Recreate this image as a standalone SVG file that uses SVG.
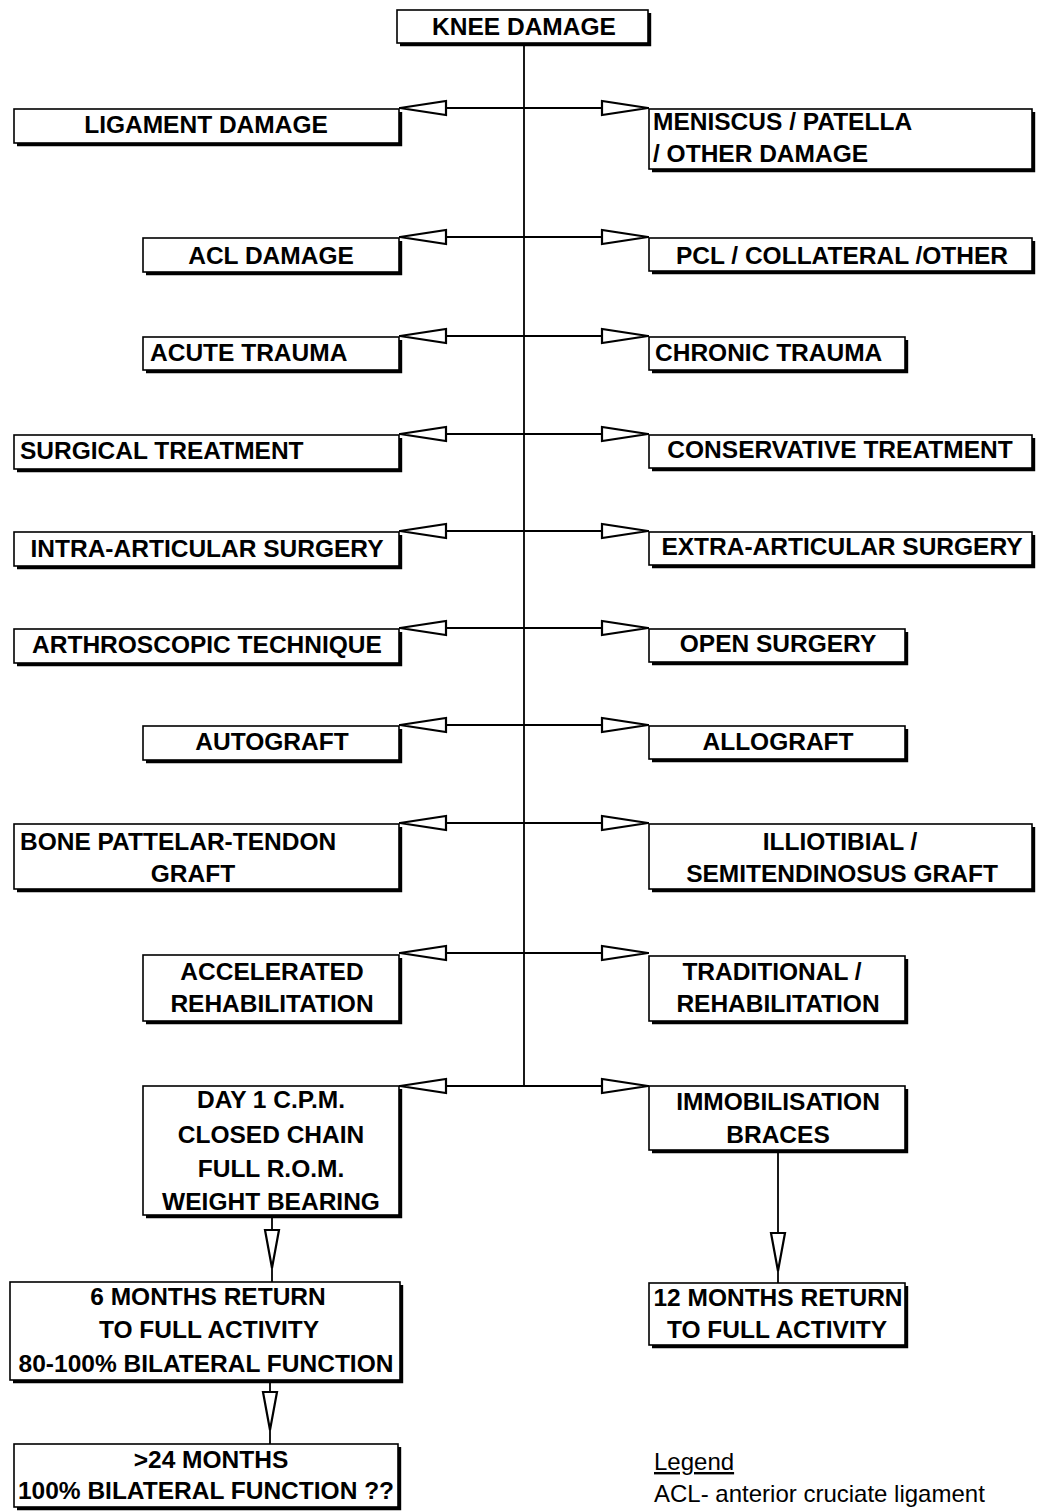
<svg xmlns="http://www.w3.org/2000/svg" xmlns:xlink="http://www.w3.org/1999/xlink" width="1038" height="1511" viewBox="0 0 1038 1511">
<style>
.box{fill:#fff;stroke:#000;stroke-width:1.6}
.sh{fill:none;stroke:#000;stroke-width:3.2}
.t{font-family:"Liberation Sans",Arial,sans-serif;font-weight:bold;font-size:24.5px;fill:#000}
.c{text-anchor:middle}
.ln{stroke:#000;stroke-width:1.8;fill:none}
.lg{font-family:"Liberation Sans",Arial,sans-serif;font-size:24px;fill:#000}
</style>
<defs>
<path id="aL" d="M0,0 L46,-7 L46,7 Z" fill="#fff" stroke="#000" stroke-width="2.2" stroke-linejoin="miter"/>
<path id="aR" d="M0,0 L-46,-7 L-46,7 Z" fill="#fff" stroke="#000" stroke-width="2.2"/>
<path id="aD" d="M0,0 L-7,-38 L7,-38 Z" fill="#fff" stroke="#000" stroke-width="2.2"/>
</defs>
<rect width="1038" height="1511" fill="#fff"/>

<g id="connectors">
<line class="ln" x1="524" y1="43" x2="524" y2="1086"/>
<line class="ln" x1="399" y1="108" x2="649" y2="108"/>
<line class="ln" x1="399" y1="237" x2="649" y2="237"/>
<line class="ln" x1="399" y1="336" x2="649" y2="336"/>
<line class="ln" x1="399" y1="434" x2="649" y2="434"/>
<line class="ln" x1="399" y1="531" x2="649" y2="531"/>
<line class="ln" x1="399" y1="628" x2="649" y2="628"/>
<line class="ln" x1="399" y1="725" x2="649" y2="725"/>
<line class="ln" x1="399" y1="823" x2="649" y2="823"/>
<line class="ln" x1="399" y1="953" x2="649" y2="953"/>
<line class="ln" x1="399" y1="1086" x2="649" y2="1086"/>
<use xlink:href="#aL" x="400" y="108"/><use xlink:href="#aR" x="648" y="108"/>
<use xlink:href="#aL" x="400" y="237"/><use xlink:href="#aR" x="648" y="237"/>
<use xlink:href="#aL" x="400" y="336"/><use xlink:href="#aR" x="648" y="336"/>
<use xlink:href="#aL" x="400" y="434"/><use xlink:href="#aR" x="648" y="434"/>
<use xlink:href="#aL" x="400" y="531"/><use xlink:href="#aR" x="648" y="531"/>
<use xlink:href="#aL" x="400" y="628"/><use xlink:href="#aR" x="648" y="628"/>
<use xlink:href="#aL" x="400" y="725"/><use xlink:href="#aR" x="648" y="725"/>
<use xlink:href="#aL" x="400" y="823"/><use xlink:href="#aR" x="648" y="823"/>
<use xlink:href="#aL" x="400" y="953"/><use xlink:href="#aR" x="648" y="953"/>
<use xlink:href="#aL" x="400" y="1086"/><use xlink:href="#aR" x="648" y="1086"/>
<line class="ln" x1="272" y1="1216" x2="272" y2="1282"/>
<use xlink:href="#aD" x="272" y="1268"/>
<line class="ln" x1="270" y1="1382" x2="270" y2="1444"/>
<use xlink:href="#aD" x="270" y="1430"/>
<line class="ln" x1="778" y1="1151" x2="778" y2="1283"/>
<use xlink:href="#aD" x="778" y="1271"/>
</g>

<g id="knee-damage">
<rect class="box" x="397" y="10" width="251" height="33"/>
<path class="sh" d="M400,44.6 H649.6 V13"/>
<text class="t c" x="524" y="35">KNEE DAMAGE</text>
</g>

<g id="ligament-damage">
<rect class="box" x="14" y="109" width="385" height="34"/>
<path class="sh" d="M17,144.6 H400.6 V112"/>
<text class="t c" x="206" y="133">LIGAMENT DAMAGE</text>
</g>

<g id="meniscus">
<rect class="box" x="649" y="109" width="383" height="60"/>
<path class="sh" d="M652,170.6 H1033.6 V112"/>
<text class="t" x="653" y="130">MENISCUS / PATELLA</text>
<text class="t" x="653" y="162">/ OTHER DAMAGE</text>
</g>

<g id="acl-damage">
<rect class="box" x="143" y="238" width="256" height="34"/>
<path class="sh" d="M146,273.6 H400.6 V241"/>
<text class="t c" x="271" y="264">ACL DAMAGE</text>
</g>

<g id="pcl">
<rect class="box" x="649" y="238" width="383" height="33"/>
<path class="sh" d="M652,272.6 H1033.6 V241"/>
<text class="t c" x="842" y="264">PCL / COLLATERAL /OTHER</text>
</g>

<g id="acute-trauma">
<rect class="box" x="143" y="337" width="256" height="33"/>
<path class="sh" d="M146,371.6 H400.6 V340"/>
<text class="t" x="150" y="361">ACUTE TRAUMA</text>
</g>

<g id="chronic-trauma">
<rect class="box" x="649" y="337" width="256" height="33"/>
<path class="sh" d="M652,371.6 H906.6 V340"/>
<text class="t" x="655" y="361">CHRONIC TRAUMA</text>
</g>

<g id="surgical-treatment">
<rect class="box" x="14" y="435" width="385" height="34"/>
<path class="sh" d="M17,470.6 H400.6 V438"/>
<text class="t" x="20" y="459">SURGICAL TREATMENT</text>
</g>

<g id="conservative-treatment">
<rect class="box" x="649" y="435" width="383" height="33"/>
<path class="sh" d="M652,469.6 H1033.6 V438"/>
<text class="t c" x="840" y="458">CONSERVATIVE TREATMENT</text>
</g>

<g id="intra-articular">
<rect class="box" x="14" y="532" width="385" height="34"/>
<path class="sh" d="M17,567.6 H400.6 V535"/>
<text class="t c" x="207" y="557">INTRA-ARTICULAR SURGERY</text>
</g>

<g id="extra-articular">
<rect class="box" x="649" y="532" width="383" height="33"/>
<path class="sh" d="M652,566.6 H1033.6 V535"/>
<text class="t c" x="842" y="555">EXTRA-ARTICULAR SURGERY</text>
</g>

<g id="arthroscopic">
<rect class="box" x="14" y="629" width="385" height="34"/>
<path class="sh" d="M17,664.6 H400.6 V632"/>
<text class="t c" x="207" y="653">ARTHROSCOPIC TECHNIQUE</text>
</g>

<g id="open-surgery">
<rect class="box" x="649" y="629" width="256" height="33"/>
<path class="sh" d="M652,663.6 H906.6 V632"/>
<text class="t c" x="778" y="652">OPEN SURGERY</text>
</g>

<g id="autograft">
<rect class="box" x="143" y="726" width="256" height="34"/>
<path class="sh" d="M146,761.6 H400.6 V729"/>
<text class="t c" x="272" y="750">AUTOGRAFT</text>
</g>

<g id="allograft">
<rect class="box" x="649" y="726" width="256" height="33"/>
<path class="sh" d="M652,760.6 H906.6 V729"/>
<text class="t c" x="778" y="750">ALLOGRAFT</text>
</g>

<g id="bone-patellar">
<rect class="box" x="14" y="824" width="385" height="65"/>
<path class="sh" d="M17,890.6 H400.6 V827"/>
<text class="t" x="20" y="850">BONE PATTELAR-TENDON</text>
<text class="t c" x="193" y="882">GRAFT</text>
</g>

<g id="illiotibial">
<rect class="box" x="649" y="824" width="383" height="65"/>
<path class="sh" d="M652,890.6 H1033.6 V827"/>
<text class="t c" x="840" y="850">ILLIOTIBIAL /</text>
<text class="t c" x="842" y="882">SEMITENDINOSUS GRAFT</text>
</g>

<g id="accelerated">
<rect class="box" x="143" y="955" width="256" height="66"/>
<path class="sh" d="M146,1022.6 H400.6 V958"/>
<text class="t c" x="272" y="980">ACCELERATED</text>
<text class="t c" x="272" y="1012">REHABILITATION</text>
</g>

<g id="traditional">
<rect class="box" x="649" y="956" width="256" height="65"/>
<path class="sh" d="M652,1022.6 H906.6 V959"/>
<text class="t c" x="772" y="980">TRADITIONAL /</text>
<text class="t c" x="778" y="1012">REHABILITATION</text>
</g>

<g id="day1">
<rect class="box" x="143" y="1086" width="256" height="129"/>
<path class="sh" d="M146,1216.6 H400.6 V1089"/>
<text class="t c" x="271" y="1108">DAY 1 C.P.M.</text>
<text class="t c" x="271" y="1143">CLOSED CHAIN</text>
<text class="t c" x="271" y="1177">FULL R.O.M.</text>
<text class="t c" x="271" y="1210">WEIGHT BEARING</text>
</g>

<g id="immobilisation">
<rect class="box" x="649" y="1086" width="256" height="64"/>
<path class="sh" d="M652,1151.6 H906.6 V1089"/>
<text class="t c" x="778" y="1110">IMMOBILISATION</text>
<text class="t c" x="778" y="1143">BRACES</text>
</g>

<g id="six-months">
<rect class="box" x="10" y="1282" width="390" height="98"/>
<path class="sh" d="M13,1381.6 H401.6 V1285"/>
<text class="t c" x="208" y="1305">6 MONTHS RETURN</text>
<text class="t c" x="209" y="1338">TO FULL ACTIVITY</text>
<text class="t c" x="206" y="1372">80-100% BILATERAL FUNCTION</text>
</g>

<g id="twelve-months">
<rect class="box" x="649" y="1283" width="256" height="62"/>
<path class="sh" d="M652,1346.6 H906.6 V1286"/>
<text class="t c" x="778" y="1306">12 MONTHS RETURN</text>
<text class="t c" x="777" y="1338">TO FULL ACTIVITY</text>
</g>

<g id="twentyfour-months">
<rect class="box" x="14" y="1444" width="384" height="63"/>
<path class="sh" d="M17,1508.6 H399.6 V1447"/>
<text class="t c" x="211" y="1468">&gt;24 MONTHS</text>
<text class="t c" x="206" y="1499">100% BILATERAL FUNCTION ??</text>
</g>

<g id="legend">
<text class="lg" x="654" y="1470" text-decoration="underline">Legend</text>
<text class="lg" x="654" y="1502">ACL- anterior cruciate ligament</text>
</g>
</svg>
